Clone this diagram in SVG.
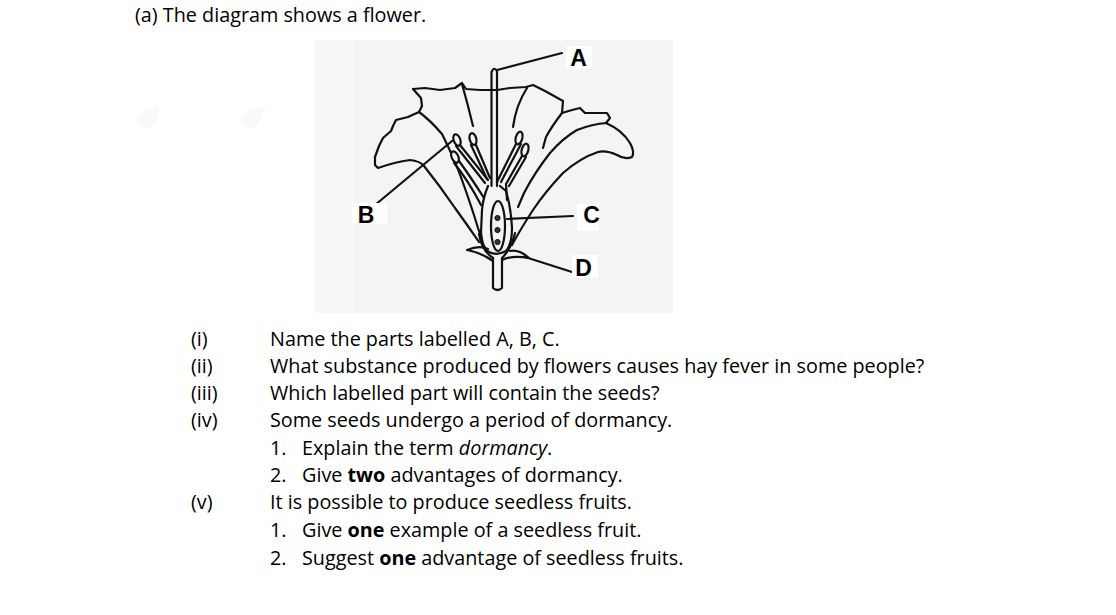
<svg xmlns="http://www.w3.org/2000/svg" width="1116" height="615" viewBox="0 0 1116 615">
<style>
.t{font-family:"Open Sans","Liberation Sans",sans-serif;font-size:19.8px;fill:#000}
.lbl{font-family:"Liberation Sans",Arial,sans-serif;font-size:23px;font-weight:bold;fill:#000;text-anchor:middle}
.ln{fill:none;stroke:#111;stroke-width:2.2;stroke-linecap:round;stroke-linejoin:round}
.an{fill:#f4f4f4;stroke:#111;stroke-width:2.2}
</style>
<rect width="1116" height="615" fill="#ffffff"/>
<g id="faint" fill="#f9f9f9">
<path d="M137,118 Q143,108 160,106 Q158,122 150,128 Q140,128 137,118 Z"/>
<path d="M241,118 Q247,108 265,106 Q263,122 254,128 Q244,128 241,118 Z"/>
</g>
<text class="t" x="135" y="22">(a) The diagram shows a flower.</text>
<g id="flower">
<rect x="315" y="40" width="358" height="273" fill="#f4f4f4"/>
<rect x="315" y="40" width="40" height="273" fill="#f7f7f7"/>
<path class="ln" d="M413,89 L425,88 L440,90 L455,88 L462,83 L466,89 L480,90 L497,90 L510,88 L526,87 L533,85 L545,91 L563,101 L562,113"/>
<path class="ln" d="M462,84 Q468,105 473,126"/>
<path class="ln" d="M527,88 Q516,105 513,127"/>
<path class="ln" d="M562,113 Q552,126 546,137 L543,148"/>
<path class="ln" d="M413,89 L421,98 L422,106 L419,112 Q430,120 442,134 Q455,160 462,180 Q472,208 478,228 L482,240"/>
<path class="ln" d="M419,112 L408,117 L396,120 L393,126 L391,131 L383,138 L379,146 L375,157 L375,165 L378,168 Q395,162 410,160 Q420,161 424,166 Q440,186 455,208 Q468,226 479,242"/>
<path class="ln" d="M562,113 L572,110 L580,108 L585,113 L607,113 L610,118 L606,123 Q622,130 630,143 Q635,152 632,157 Q625,160 617,155 Q606,150 598,152 Q580,158 563,173 Q545,192 533,210 Q520,230 512,245"/>
<path class="ln" d="M607,123 Q592,124 577,130 Q563,138 550,153 Q535,172 524,193 L518,207"/>
<path class="ln" d="M491.5,186 L491.5,72 Q494,66 497,71 L497,186"/>
<ellipse class="an" cx="457" cy="140" rx="3.3" ry="6" transform="rotate(-20 457 140)"/>
<ellipse class="an" cx="473" cy="139" rx="3.3" ry="6" transform="rotate(-15 473 139)"/>
<ellipse class="an" cx="455" cy="157" rx="3.3" ry="6" transform="rotate(-25 455 157)"/>
<path class="ln" d="M456,146 L485,183 M460,145 L488,180"/>
<path class="ln" d="M471,145 L487,179 M476,145 L490,178"/>
<path class="ln" d="M454,163 Q468,180 481,205 M459,161 Q470,176 484,198"/>
<ellipse class="an" cx="519" cy="138" rx="3.3" ry="6.5" transform="rotate(15 519 138)"/>
<ellipse class="an" cx="525" cy="150" rx="3.3" ry="6.5" transform="rotate(15 525 150)"/>
<path class="ln" d="M516,144 L497,182 M521,144 L501,182"/>
<path class="ln" d="M522,156 L506,184 L507,200 M526,157 L509,186"/>
<path class="ln" d="M488,186 Q483,198 482,210 L481,232 Q482,248 489,252 Q497,256 506,251 Q512,244 512,228 Q511,208 506,191 L500,186"/>
<ellipse class="ln" cx="498" cy="226" rx="7" ry="25"/>
<circle cx="497.5" cy="218" r="2.6" fill="#333" stroke="#111" stroke-width="1"/>
<circle cx="497.5" cy="230" r="2.6" fill="#333" stroke="#111" stroke-width="1"/>
<circle cx="497.5" cy="242" r="2.6" fill="#333" stroke="#111" stroke-width="1"/>
<path class="ln" d="M479,234 C481,247 487,254 493,258"/>
<path class="ln" d="M515,233 C512,246 507,253 502,258"/>
<path class="ln" d="M493,261 C486,256 478,252 467,250 C474,247 482,246 488,249"/>
<path class="ln" d="M502,260 C510,256 518,256 529,258 C522,252 515,250 510,251"/>
<path class="ln" d="M493,258 L493,288 Q497.5,292 502,288 L502,258"/>
</g>
<g id="connectors">
<path class="ln" d="M497,70 L562,53"/>
<path class="ln" d="M375,205 L452,141"/>
<path class="ln" d="M507,219 L573,216"/>
<path class="ln" d="M525,257 L572,272"/>
</g>
<g id="label-A"><rect x="566" y="46" width="26" height="23" fill="#fff"/><text class="lbl" x="578.5" y="66">A</text></g>
<g id="label-B"><rect x="352" y="203" width="35" height="21" fill="#fff"/><text class="lbl" x="366" y="223">B</text></g>
<g id="label-C"><rect x="577" y="204" width="22" height="27" fill="#fff"/><text class="lbl" x="591.5" y="223">C</text></g>
<g id="label-D"><rect x="572" y="255" width="26" height="23" fill="#fff"/><text class="lbl" x="583.5" y="276">D</text></g>
<g id="questions">
<text class="t" x="191" y="346">(i)</text>
<text class="t" x="270" y="346">Name the parts labelled A, B, C.</text>
<text class="t" x="191" y="373">(ii)</text>
<text class="t" x="270" y="373">What substance produced by flowers causes hay fever in some people?</text>
<text class="t" x="191" y="400">(iii)</text>
<text class="t" x="270" y="400">Which labelled part will contain the seeds?</text>
<text class="t" x="191" y="427">(iv)</text>
<text class="t" x="270" y="427">Some seeds undergo a period of dormancy.</text>
<text class="t" x="270" y="455">1.</text>
<text class="t" x="302" y="455">Explain the term <tspan font-style="italic">dormancy</tspan>.</text>
<text class="t" x="270" y="482">2.</text>
<text class="t" x="302" y="482">Give <tspan font-weight="bold">two</tspan> advantages of dormancy.</text>
<text class="t" x="191" y="509">(v)</text>
<text class="t" x="270" y="509">It is possible to produce seedless fruits.</text>
<text class="t" x="270" y="537">1.</text>
<text class="t" x="302" y="537">Give <tspan font-weight="bold">one</tspan> example of a seedless fruit.</text>
<text class="t" x="270" y="565">2.</text>
<text class="t" x="302" y="565">Suggest <tspan font-weight="bold">one</tspan> advantage of seedless fruits.</text>
</g>
</svg>
